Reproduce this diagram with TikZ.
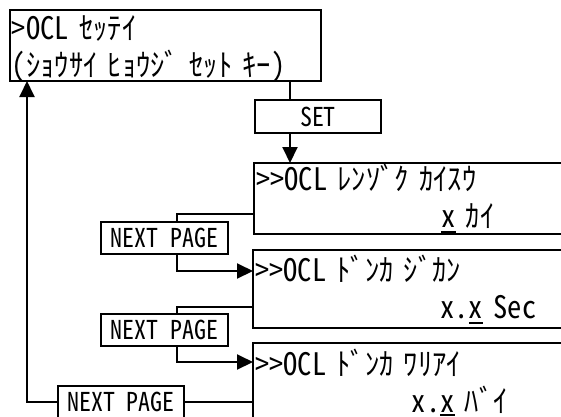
\documentclass[tikz,border=0pt]{standalone}
\usepackage{fontspec}
\usetikzlibrary{arrows.meta}
\IfFontExistsTF{Noto Sans Mono CJK JP}
  {\newfontfamily\lcd[FakeStretch=0.92]{Noto Sans Mono CJK JP}}
  {\newfontfamily\lcd[WordSpace=2.2,FakeStretch=0.92]{Noto Sans CJK JP}}
\newcommand{\cur}[2][6pt]{\setbox0\hbox{#2}\rlap{\rule[-#1]{\wd0}{2pt}}\box0\relax}
\newcommand{\cells}[1]{\hspace*{#1\fontcharwd\font`x}}

\begin{document}
\begin{tikzpicture}[x=1pt,y=-1pt]
	\tikzstyle{screen}=[draw,line width=2pt,anchor=north west,inner xsep=2pt,inner ysep=0pt,outer sep=0pt,align=left,font=\lcd\fontsize{31}{37}\selectfont]
	\tikzstyle{key}=[draw,line width=2pt,inner sep=0pt,outer sep=0pt,minimum height=32pt,minimum width=127pt,font=\lcd\fontsize{26}{30}\selectfont]
	\tikzstyle{link}=[line width=2pt]
	\tikzstyle{arr}=[link,-{Triangle[length=16pt,width=15pt]}]

	\clip (0,0) rectangle (561,416);

	\node [screen,text width=307pt,text height=29pt,text depth=42pt] (menu) at (10,10) {>OCL ｾｯﾃｲ\\(ｼｮｳｻｲ ﾋｮｳｼﾞ ｾｯﾄ ｷｰ)};
	\node [screen,text width=330pt,text height=27pt,text depth=44pt] (count) at (254,163) {>\kern0pt>OCL ﾚﾝｿﾞｸ ｶｲｽｳ\\\cells{13}\cur{x} ｶｲ};
	\node [screen,text width=330pt,text height=31pt,text depth=47pt] (time) at (253,250) {>\kern0pt>OCL ﾄﾞﾝｶ ｼﾞｶﾝ\\\cells{13}x.\cur{x} Sec};
	\node [screen,text width=330pt,text height=32pt,text depth=49pt] (ratio) at (253,343) {>\kern0pt>OCL ﾄﾞﾝｶ ﾜﾘｱｲ\\\cells{11}x.\cur[3.5pt]{x} ﾊﾞｲ};

	\node [key,minimum width=126pt,minimum height=33pt] (set) at (318,116.5) {SET};
	\node [key] (next1) at (164.5,238) {NEXT PAGE};
	\node [key] (next2) at (164.5,330) {NEXT PAGE};
	\node [key,minimum width=126pt] (next3) at (121,402) {NEXT PAGE};

	\draw [link] ([xshift=35pt]set.north west) -- ([xshift=35pt]set.north west |- menu.south);
	\draw [arr] ([xshift=35pt]set.south west) -- ([xshift=35pt]set.south west |- count.north);

	\foreach \src/\btn/\dest/\up/\down in
	{count/next1/time/20/-21,time/next2/ratio/21/-19}
	{
	  \draw [link] ([yshift=\up pt]\src.south west) -| ([xshift=76pt]\btn.north west);
	  \draw [arr] ([xshift=76pt]\btn.south west) |- ([yshift=\down pt]\dest.north west);
	}

	\draw [link] (next3.east -| ratio.west) -- (next3.east);
	\draw [arr] (next3.west) -| ([xshift=17pt]menu.south west);
\end{tikzpicture}
\end{document}
